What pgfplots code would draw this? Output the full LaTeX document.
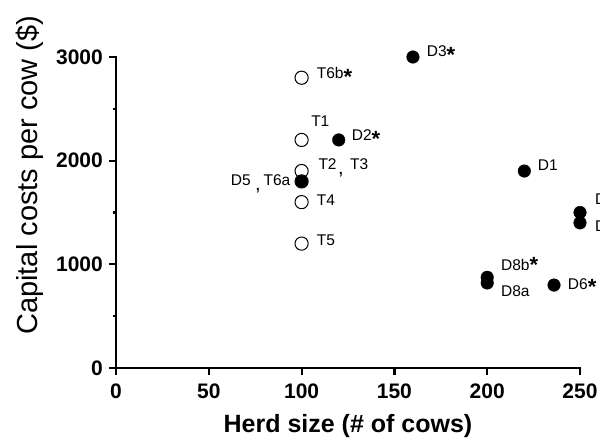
\documentclass[border=0pt]{standalone}
\usepackage{fontspec}
\setmainfont{Liberation Sans}
\usepackage{pgfplots}
\pgfplotsset{compat=1.18}
\newcommand\lab{\fontsize{15.5bp}{18bp}\selectfont}
\newcommand\astr[1]{\raisebox{#1}{\fontsize{22bp}{22bp}\selectfont\bfseries *}}
\begin{document}
\begin{tikzpicture}
\path[use as bounding box] (0,0) rectangle (600bp,439bp);
\begin{axis}[
  at={(116bp,71bp)}, anchor=south west,
  scale only axis, width=464bp, height=311bp,
  xmin=0, xmax=250, ymin=0, ymax=3000,
  clip=false,
  axis lines=left,
  axis line style={-, line width=2.2bp, line cap=rect, black},
  tick align=outside,
  major tick length=7bp, minor tick length=3bp,
  every tick/.style={line width=2.2bp, black},
  xtick={0,50,...,250}, ytick={0,1000,2000,3000},
  minor ytick={500,1500,2500},
  /pgf/number format/assume math mode=true,
  /pgf/number format/1000 sep={},
  ticklabel style={font=\fontsize{21bp}{21bp}\selectfont\bfseries},
  xticklabel style={inner sep=0pt, anchor=north},
  yticklabel style={inner sep=0pt, anchor=east},
  xticklabel shift=9bp,
  yticklabel shift=6bp,
  xlabel={\bfseries Herd size (\# of cows)},
  xlabel style={font=\fontsize{25bp}{25bp}\selectfont, at={(axis description cs:0.5,-0.209)}, anchor=base, inner sep=0pt},
  ylabel={Capital costs per cow (\$)},
  ylabel style={font=\fontsize{29bp}{29bp}\selectfont, at={(axis description cs:-0.170,0.62)}, anchor=base, inner sep=0pt},
]
% open circles (T farms)
\addplot[only marks, mark=o, mark size=6.6bp, mark options={line width=1bp, draw=black}] coordinates {
  (100,2800) (100,2200) (100,1900) (100,1800) (100,1600) (100,1200)
};
% filled circles (D farms)
\addplot[only marks, mark=*, mark size=6.3bp, mark options={draw=black, fill=black}] coordinates {
  (160,3000) (120,2200) (220,1900) (250,1500) (250,1400)
  (200,875) (200,820) (236,800) (100,1800)
};
\begin{scope}[every node/.style={inner sep=0pt, anchor=base west, font=\lab}]
\node at (axis cs:167.4,3003) {D3\astr{-6bp}};
\node at (axis cs:108.1,2794) {T6b\astr{-6bp}};
\node at (axis cs:105.1,2328) {T1};
\node at (axis cs:127.0,2190) {D2\astr{-6bp}};
\node at (axis cs:109.0,1910) {T2};
\node at (axis cs:119.6,1862) {\fontsize{20bp}{20bp}\selectfont ,};
\node at (axis cs:126.1,1910) {T3};
\node at (axis cs:61.8,1765) {D5};
\node at (axis cs:74.9,1717) {\fontsize{20bp}{20bp}\selectfont ,};
\node at (axis cs:79.4,1765) {T6a};
\node at (axis cs:108.1,1572) {T4};
\node at (axis cs:108.1,1177) {T5};
\node at (axis cs:227.2,1903) {D1};
\node at (axis cs:258.1,1579) {D};
\node at (axis cs:258.1,1315) {D};
\node at (axis cs:207.4,939) {D8b\astr{-2bp}};
\node at (axis cs:207.4,688) {D8a};
\node at (axis cs:243.4,759) {D6\astr{-5bp}};
\end{scope}
\end{axis}
\end{tikzpicture}
\end{document}
